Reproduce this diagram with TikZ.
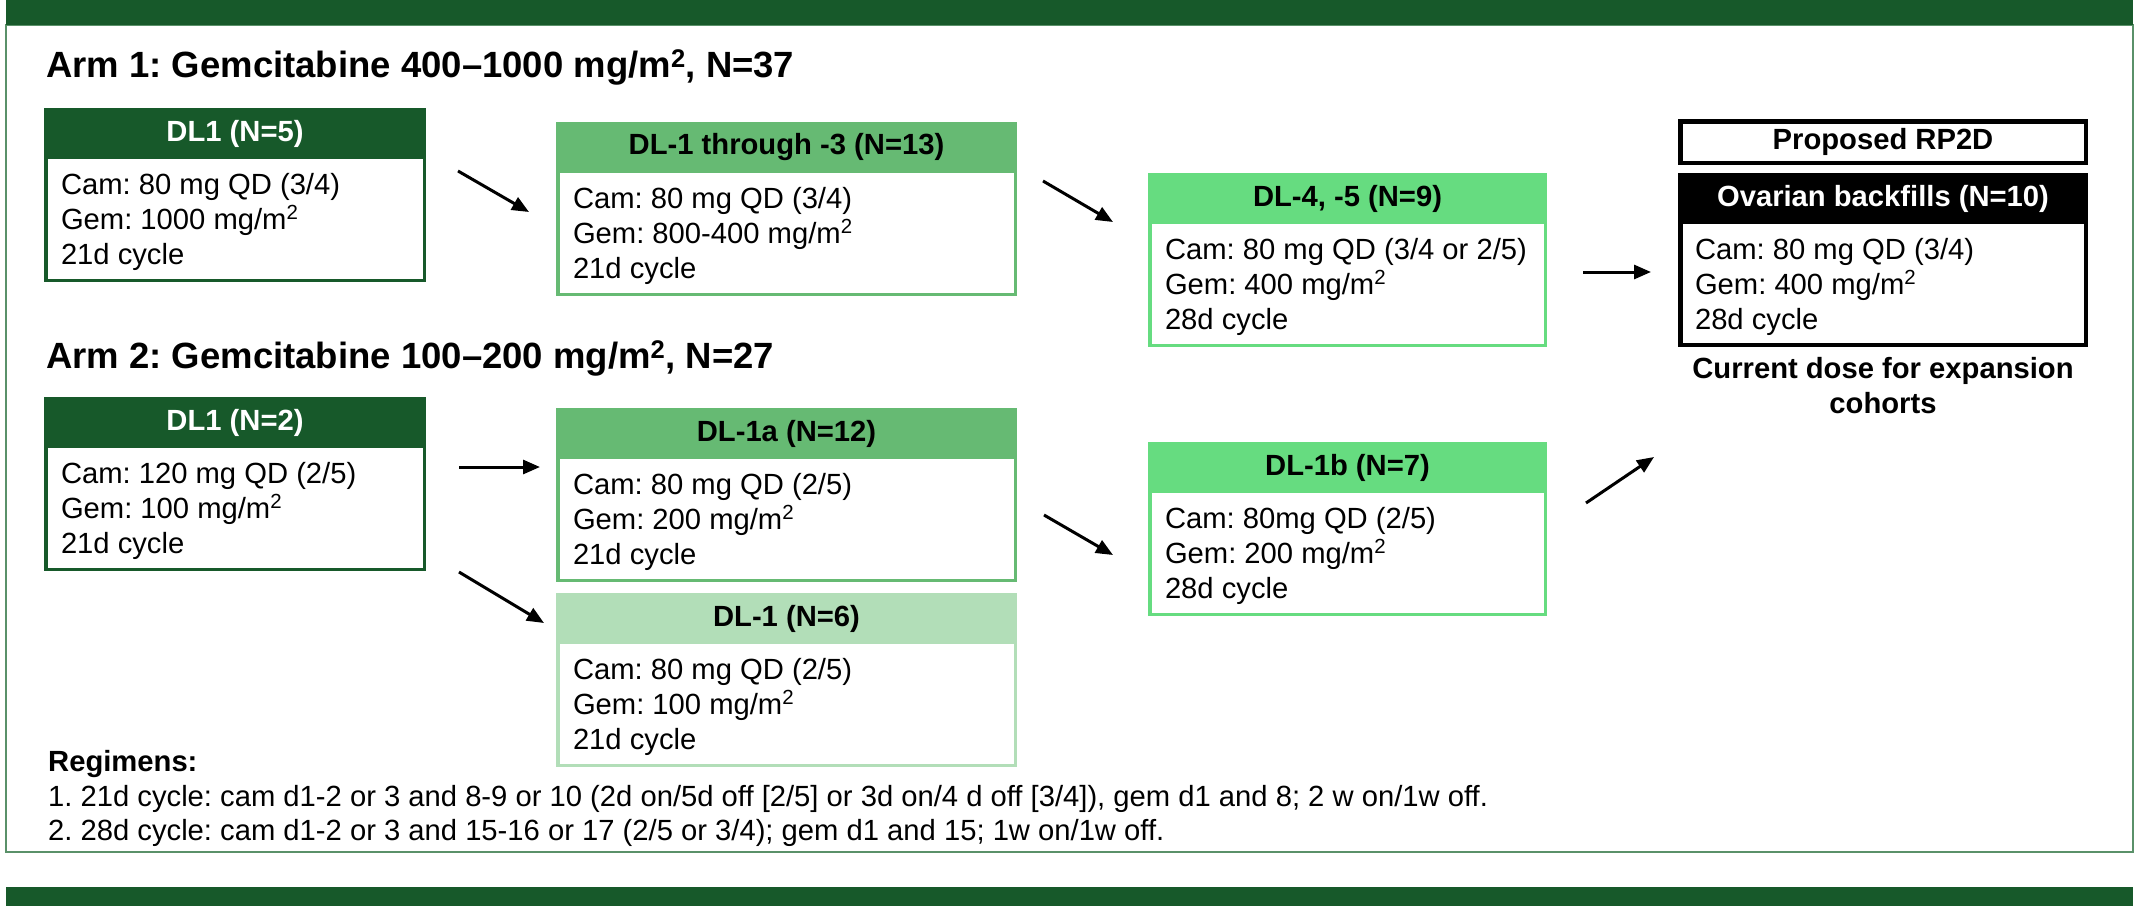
\documentclass[tikz,border=0pt]{standalone}
\usepackage{fontspec}
\setmainfont{Liberation Sans}
\usetikzlibrary{arrows.meta}
\frenchspacing
\definecolor{dkgreen}{RGB}{23,89,42}
\definecolor{midgreen}{RGB}{102,186,115}
\definecolor{brgreen}{RGB}{102,220,128}
\definecolor{palegreen}{RGB}{178,222,184}
\definecolor{framegreen}{RGB}{90,145,105}
\newcommand{\bodyfont}{\fontsize{29.2}{35}\selectfont}
\newcommand{\hdrfont}{\fontsize{29.2}{35}\selectfont\bfseries}
\newcommand{\ttlfont}{\fontsize{36.5}{44}\selectfont\bfseries}
\newcommand{\sq}{\textsuperscript{2}}
% #1 name, #2 x, #3 y, #4 width, #5 colour, #6 header text colour, #7 header, #8 body, #9 border width
\newcommand{\dosebox}[9]{%
  \node[draw=#5, line width=#9pt, fill=white, inner sep=0pt, outer sep=0pt, anchor=north west,
        minimum width=#4pt-#9pt, minimum height=174pt-#9pt] (#1) at (#2+#9/2, #3+#9/2) {};
  \node[fill=#5, text=#6, font=\hdrfont, inner sep=0pt, outer sep=0pt, anchor=north west,
        minimum width=#4pt, minimum height=51pt] (#1h) at (#2,#3) {#7};
  \node[bodytext] (#1t) at (#2+17, #3+51+35-22) {\rule{0pt}{22pt}#8};
}
\tikzset{
  bodytext/.style={font=\bodyfont, align=left, inner sep=0pt, outer sep=0pt, anchor=north west},
  arr/.style={line width=3pt, -{Triangle[length=17pt,width=14pt]}},
  ttl/.style={font=\ttlfont, anchor=base west, inner sep=0pt},
}
\begin{document}
\begin{tikzpicture}[x=1pt,y=-1pt]
\useasboundingbox (0,0) rectangle (2150,906);
% frame and bars
\draw[framegreen, line width=2pt] (6,25) rectangle (2133,852);
\fill[dkgreen] (6,0) rectangle (2133,25);
\fill[dkgreen] (6,887) rectangle (2133,906);
% titles
\node[ttl] (t1) at (46,77) {Arm 1: Gemcitabine 400–1000 mg/m\sq, N=37};
\node[ttl] (t2) at (46,368) {Arm 2: Gemcitabine 100–200 mg/m\sq, N=27};
% boxes
\dosebox{b1}{44}{108}{382}{dkgreen}{white}{DL1 (N=5)}{Cam: 80 mg QD (3/4)\\Gem: 1000 mg/m\sq\\21d cycle}{3.5}
\dosebox{b2}{556}{122}{461}{midgreen}{black}{DL-1 through -3 (N=13)}{Cam: 80 mg QD (3/4)\\Gem: 800-400 mg/m\sq\\21d cycle}{3.5}
\dosebox{b3}{1148}{173}{399}{brgreen}{black}{DL-4, -5 (N=9)}{Cam: 80 mg QD (3/4 or 2/5)\\Gem: 400 mg/m\sq\\28d cycle}{3.5}
\dosebox{b5}{1678}{173}{410}{black}{white}{Ovarian backfills (N=10)}{Cam: 80 mg QD (3/4)\\Gem: 400 mg/m\sq\\28d cycle}{4.5}
\dosebox{b6}{44}{397}{382}{dkgreen}{white}{DL1 (N=2)}{Cam: 120 mg QD (2/5)\\Gem: 100 mg/m\sq\\21d cycle}{3.5}
\dosebox{b7}{556}{408}{461}{midgreen}{black}{DL-1a (N=12)}{Cam: 80 mg QD (2/5)\\Gem: 200 mg/m\sq\\21d cycle}{3.5}
\dosebox{b8}{556}{593}{461}{palegreen}{black}{DL-1 (N=6)}{Cam: 80 mg QD (2/5)\\Gem: 100 mg/m\sq\\21d cycle}{3.5}
\dosebox{b9}{1148}{442}{399}{brgreen}{black}{DL-1b (N=7)}{Cam: 80mg QD (2/5)\\Gem: 200 mg/m\sq\\28d cycle}{3.5}
% proposed RP2D
\node[draw=black, line width=4.5pt, fill=white, inner sep=0pt, outer sep=0pt, anchor=north west,
      minimum width=405.5pt, minimum height=41.5pt, font=\hdrfont] (b4) at (1680.25,121.25) {Proposed RP2D};
\node[font=\hdrfont, align=center, anchor=base, inner sep=0pt] (note) at (1883,413) {Current dose for expansion\\cohorts};
% arrows
\coordinate (a1s) at (458,171); \coordinate (a1e) at (529,212);
\coordinate (a2s) at (1043,181); \coordinate (a2e) at (1113,222);
\coordinate (a3s) at (1583,272); \coordinate (a3e) at (1651,272);
\coordinate (a4s) at (459,467); \coordinate (a4e) at (540,467);
\coordinate (a5s) at (459,572); \coordinate (a5e) at (544,623);
\coordinate (a6s) at (1044,515); \coordinate (a6e) at (1113,555);
\coordinate (a7s) at (1586,503); \coordinate (a7e) at (1654,457);
\draw[arr] (a1s) -- (a1e);
\draw[arr] (a2s) -- (a2e);
\draw[arr] (a3s) -- (a3e);
\draw[arr] (a4s) -- (a4e);
\draw[arr] (a5s) -- (a5e);
\draw[arr] (a6s) -- (a6e);
\draw[arr] (a7s) -- (a7e);
% regimens
\node[font=\hdrfont, anchor=base west, inner sep=0pt] (reg) at (48,771) {Regimens:};
\node[font=\bodyfont, anchor=base west, inner sep=0pt] (reg1) at (48,806) {1. 21d cycle: cam d1-2 or 3 and 8-9 or 10 (2d on/5d off [2/5] or 3d on/4 d off [3/4]), gem d1 and 8; 2 w on/1w off.};
\node[font=\bodyfont, anchor=base west, inner sep=0pt] (reg2) at (48,840) {2. 28d cycle: cam d1-2 or 3 and 15-16 or 17 (2/5 or 3/4); gem d1 and 15; 1w on/1w off.};
\end{tikzpicture}
\end{document}
